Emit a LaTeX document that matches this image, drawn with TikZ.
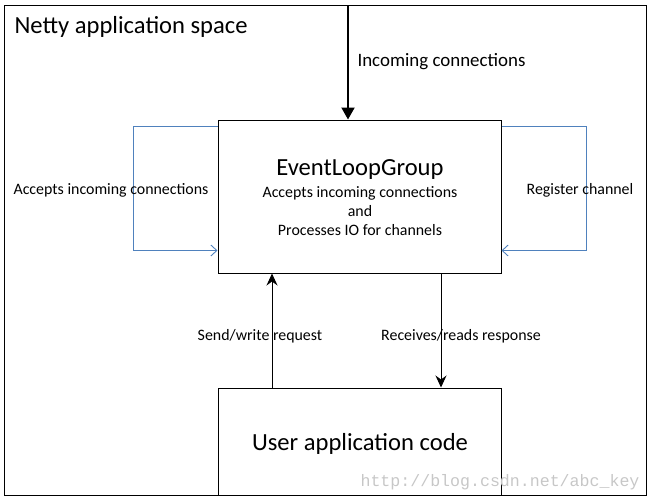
\documentclass[tikz,border=0pt]{standalone}
\usepackage{fontspec}
\setmainfont{Carlito}
\setmonofont{Liberation Mono}
\usetikzlibrary{arrows.meta}

\definecolor{loopblue}{RGB}{79,129,189}

\begin{document}
\begin{tikzpicture}[x=1pt,y=-1pt,
    box/.style={draw,line width=1pt,minimum width=283pt,inner sep=0pt},
    big/.style={font=\fontsize{24.6}{29}\selectfont},
    lbl/.style={font=\fontsize{15.9}{19}\selectfont},
    loopline/.style={draw=loopblue,line width=0.9pt,-{Straight Barb[length=6pt,width=11pt]}},
    msgline/.style={line width=1pt,-{Stealth[length=12pt,width=11pt,inset=4pt]}}]
  \useasboundingbox (0,0) rectangle (652,501);
  \draw[line width=1pt] (4,5) rectangle (646,495);
  \node[big,anchor=west] (space) at (11,27) {Netty application space};

  \node[box,minimum height=153pt] (elg) at (359.5,196.5) {};
  \node[big] (elgtitle) at (360,169) {EventLoopGroup};
  \node[lbl,align=center] (elgtext) at (360,211) {Accepts incoming connections\\and\\Processes IO for channels};

  \coordinate (inc) at (348,5);
  \draw[line width=2pt,-{Triangle[length=12pt,width=13pt]}] (inc) -- (inc |- elg.north);
  \node[font=\fontsize{18.9}{22}\selectfont,anchor=west] (inclbl) at (354,62) {Incoming connections};

  % loops on both sides
  \draw[loopline] ([yshift=-7pt]elg.north west) -- ++(-84,0) |- ([yshift=23pt]elg.south west);
  \draw[loopline] ([yshift=-7pt]elg.north east) -- ++(85,0) |- ([yshift=23pt]elg.south east);
  \node[lbl] (acclbl) at (111,190) {Accepts incoming connections};
  \node[lbl] (reglbl) at (580,190) {Register channel};

  \node[box,minimum height=107pt] (user) at (359.5,441.5) {};
  \node[big] (usertext) at (360,444) {User application code};
  \draw[msgline] ([xshift=-87.5pt]user.north) -- ([xshift=-87.5pt]elg.south);
  \draw[msgline] ([xshift=81.5pt]elg.south) -- ([xshift=81.5pt]user.north);
  \node[lbl] (sendlbl) at (260,336) {Send/write request};
  \node[lbl] (recvlbl) at (461,336) {Receives/reads response};

  \node[font=\ttfamily\fontsize{16.6}{20}\selectfont,text=black!22] (mark) at (500,482) {http://blog.csdn.net/abc\_key};
\end{tikzpicture}
\end{document}
